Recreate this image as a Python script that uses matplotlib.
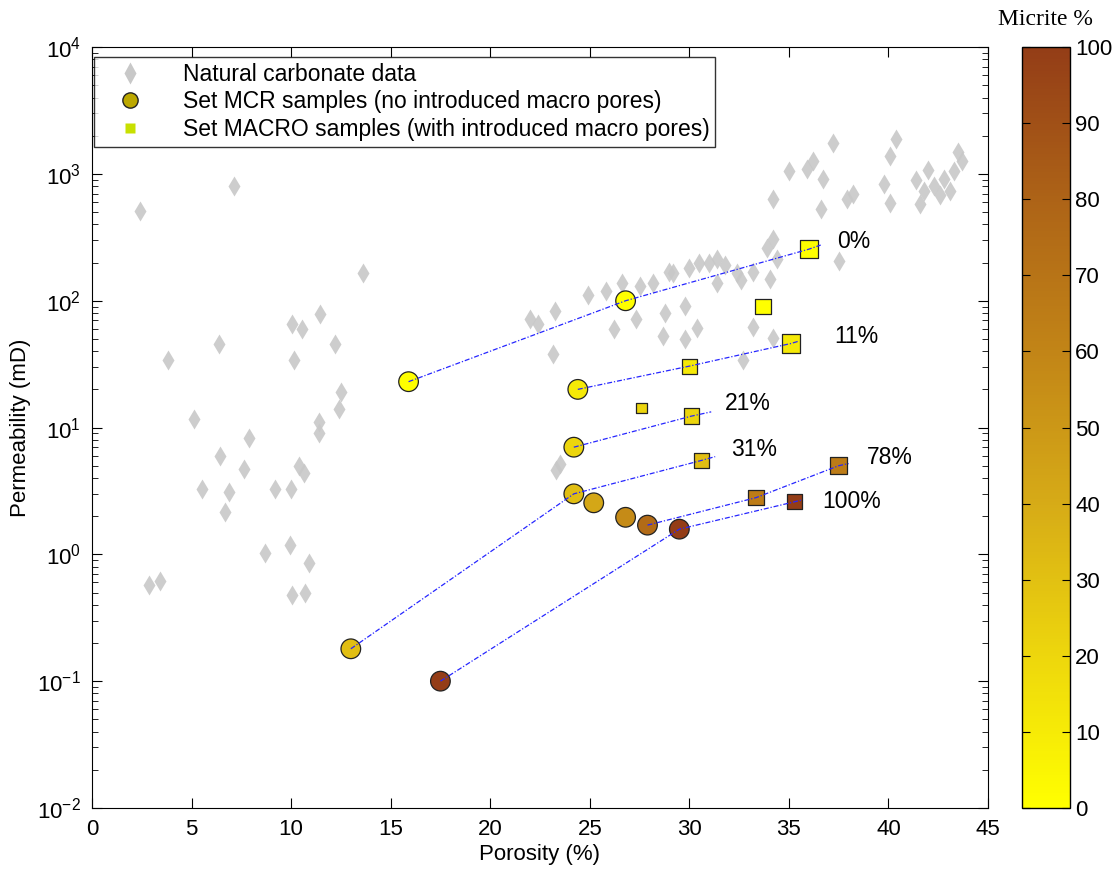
import matplotlib
matplotlib.use("Agg")
import matplotlib.pyplot as plt
from matplotlib.colors import LinearSegmentedColormap, Normalize
from matplotlib.lines import Line2D
from matplotlib.ticker import FixedLocator, MultipleLocator, NullFormatter

# Natural carbonate data (grey diamonds)
nat_por = [7.13, 2.41, 13.6, 11.45, 10.05, 10.55, 12.2, 6.38, 3.82, 10.15,
           12.5, 12.4, 11.4, 11.4, 5.12, 7.89, 6.43, 7.63, 10.4, 10.65,
           5.52, 6.88, 9.19, 10.0, 6.68, 9.94, 8.69, 10.9, 2.86, 3.42,
           10.05, 10.7,
           22.0, 22.4, 23.25, 23.15, 23.5, 23.3, 26.2, 26.6, 27.3, 28.2, 28.8,
           28.7, 29.2, 29.8, 29.8, 30.4, 30.5, 31.4, 31.4, 32.4, 32.7, 24.9,
           25.8, 27.5, 29.0, 30.0, 31.0, 31.8, 33.2, 32.6,
           37.2, 36.2, 35.9, 35.0, 36.7, 40.4, 40.1, 39.8, 40.1, 38.2, 37.9,
           36.6, 34.2, 41.6, 41.8, 42.3, 42.8, 43.3, 43.7, 43.5, 42.6, 43.1,
           42.0, 41.4, 34.2, 34.4, 33.9, 34.05, 37.5, 34.2, 33.2]
nat_perm = [805, 512, 166, 79, 66, 60, 46, 46, 34, 34,
            19, 14, 11, 9, 11.6, 8.3, 6.0, 4.75, 5.0, 4.4,
            3.3, 3.08, 3.3, 3.3, 2.14, 1.18, 1.02, 0.85, 0.57, 0.62,
            0.475, 0.50,
            72, 65, 83, 38, 5.2, 4.6, 60, 139, 72, 139, 80,
            53, 166, 91, 50, 61, 198, 215, 139, 166, 34, 110,
            120, 130, 170, 180, 200, 190, 170, 145,
            1750, 1260, 1090, 1050, 910, 1900, 1380, 830, 590, 700, 630,
            525, 630, 575, 740, 810, 910, 1050, 1260, 1500, 680, 740,
            1070, 900, 307, 215, 260, 149, 205, 51, 62]

# Set MCR samples (circles)
mcr_por = [15.9, 26.8, 24.4, 24.2, 24.2, 13.0, 25.2, 26.8, 27.9, 29.5, 17.5]
mcr_perm = [23, 100, 20, 7.0, 3.0, 0.18, 2.55, 1.96, 1.7, 1.58, 0.1]
mcr_micrite = [0, 0, 11, 21, 31, 31, 42, 57, 75, 100, 100]

# Set MACRO samples (squares)
macro_por = [36.0, 33.7, 30.0, 35.1, 27.6, 30.1, 30.6, 33.35, 37.5, 35.3]
macro_perm = [255, 90, 30.5, 46, 14.2, 12.3, 5.5, 2.8, 5.0, 2.6]
macro_micrite = [0, 0, 11, 11, 21, 21, 31, 65, 65, 100]
macro_size = [170, 130, 120, 170, 55, 125, 120, 125, 150, 120]

# trend lines per micrite content
trend_labels = ['0%', '11%', '21%', '31%', '78%', '100%']
trend_por = [[15.9, 26.8, 36.0, 36.6], [24.4, 30.0, 35.1, 35.5],
             [24.2, 30.1, 31.1], [13.0, 24.2, 30.6, 31.3],
             [27.9, 33.35, 37.5, 38.0], [17.5, 29.5, 35.3, 35.7]]
trend_perm = [[23, 100, 255, 275], [20, 30.5, 46, 48],
              [7.0, 12.3, 13.3], [0.18, 3.0, 5.5, 5.9],
              [1.7, 2.8, 5.0, 5.2], [0.1, 1.58, 2.6, 2.7]]
label_por = [37.4, 37.3, 31.8, 32.1, 38.9, 36.7]
label_perm = [295, 52, 15.5, 6.7, 5.8, 2.6]

y_decades = [1e-2, 1e-1, 1e0, 1e1, 1e2, 1e3, 1e4]

cmap = LinearSegmentedColormap.from_list("micrite", [
    (0.0, (1.0, 1.0, 0.0)),
    (0.2, (0.93, 0.84, 0.05)),
    (0.4, (0.84, 0.67, 0.09)),
    (0.6, (0.76, 0.52, 0.09)),
    (0.8, (0.68, 0.39, 0.09)),
    (1.0, (0.58, 0.24, 0.09)),
])
norm = Normalize(0, 100)

narrow = ['Liberation Sans Narrow', 'Liberation Sans', 'DejaVu Sans']
plt.rcParams['font.family'] = ['Liberation Sans', 'DejaVu Sans']
plt.rcParams['mathtext.fontset'] = 'custom'
plt.rcParams['mathtext.rm'] = 'Liberation Sans'
plt.rcParams['mathtext.it'] = 'Liberation Sans'
plt.rcParams['mathtext.bf'] = 'Liberation Sans'

fig = plt.figure(figsize=(11.19, 8.73), dpi=100)
ax = fig.add_axes([0.0822, 0.0745, 0.8007, 0.8715])
cax = fig.add_axes([0.9135, 0.0745, 0.043, 0.8715])

ax.plot(nat_por, nat_perm, linestyle='none', marker='d', markersize=10.5,
        markerfacecolor='#c8c8c8', markeredgecolor='none', alpha=0.9, zorder=1)

for xs, ys in zip(trend_por, trend_perm):
    ax.plot(xs, ys, color=(0.15, 0.15, 1.0), lw=0.9,
            linestyle=(0, (4, 1.5, 1, 1.5)), zorder=4)

ax.scatter(mcr_por, mcr_perm, c=mcr_micrite, cmap=cmap, norm=norm, s=200,
           marker='o', edgecolors='#222222', linewidths=0.9, zorder=3)
ax.scatter(macro_por, macro_perm, c=macro_micrite, cmap=cmap, norm=norm,
           s=macro_size, marker='s', edgecolors='#222222', linewidths=0.9,
           zorder=3)

for t, x, y in zip(trend_labels, label_por, label_perm):
    ax.text(x, y, t, fontsize=16.5, va='center', ha='left')

ax.set_yscale('log')
ax.set_xlim(0, 45)
ax.set_ylim(1e-2, 1e4)
ax.xaxis.set_major_locator(MultipleLocator(5))
ax.set_yticks(y_decades)
ax.set_yticklabels([f'$10^{{{int(round(__import__("math").log10(v)))}}}$'
                    for v in y_decades])
minor = [m * d for d in y_decades[:-1] for m in range(2, 10)]
ax.yaxis.set_minor_locator(FixedLocator(minor))
ax.yaxis.set_minor_formatter(NullFormatter())
ax.tick_params(which='both', direction='in', top=True, right=True)
ax.tick_params(which='major', length=7, labelsize=16, pad=8)
ax.tick_params(which='minor', length=4)
for lab in ax.get_xticklabels() + ax.get_yticklabels():
    lab.set_family(narrow)
ax.set_xlabel('Porosity (%)', fontsize=16, family=narrow, labelpad=3)
ax.set_ylabel('Permeability (mD)', fontsize=16, family=narrow, labelpad=4)

handles = [
    Line2D([], [], linestyle='none', marker='d', markersize=11,
           markerfacecolor='#c8c8c8', markeredgecolor='none'),
    Line2D([], [], linestyle='none', marker='o', markersize=11,
           markerfacecolor='#bca800', markeredgecolor='#222222'),
    Line2D([], [], linestyle='none', marker='s', markersize=7,
           markerfacecolor='#c8e000', markeredgecolor='none'),
]
labels = ['Natural carbonate data',
          'Set MCR samples (no introduced macro pores)',
          'Set MACRO samples (with introduced macro pores)']
leg = ax.legend(handles, labels, loc='upper left', bbox_to_anchor=(0.0, 0.99),
                fontsize=16.5, frameon=True, fancybox=False, borderaxespad=0.1,
                handletextpad=1.0, borderpad=0.25, labelspacing=0.2,
                handlelength=2.6)
leg.get_frame().set_edgecolor('black')
leg.get_frame().set_linewidth(1.0)

cb = fig.colorbar(plt.cm.ScalarMappable(norm=norm, cmap=cmap), cax=cax)
cb.set_ticks(range(0, 101, 10))
cb.ax.tick_params(direction='in', length=6, labelsize=16, left=True, right=True)
cb.outline.set_linewidth(1.0)
fig.text(0.934, 0.978, 'Micrite %', fontsize=17, family='Liberation Serif',
         ha='center', va='center')

fig.savefig('out.png', dpi=100)
